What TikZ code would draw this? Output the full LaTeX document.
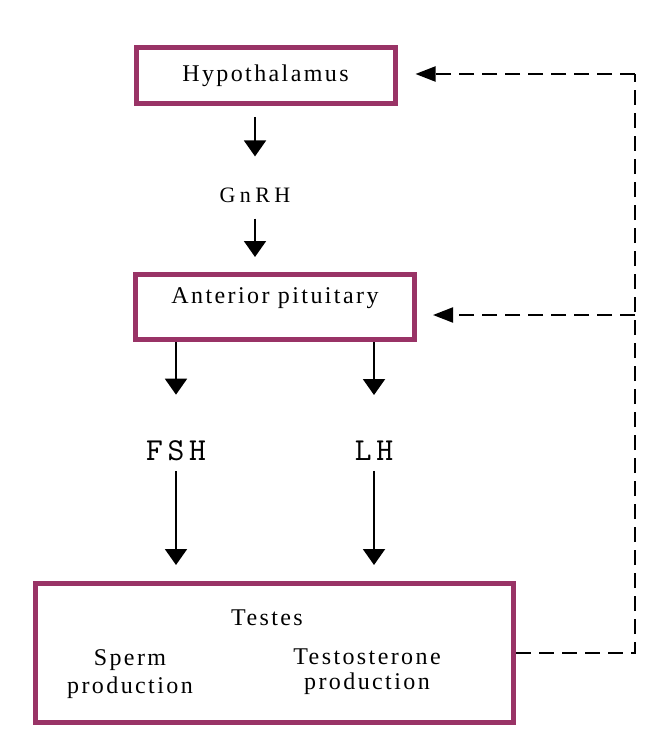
\documentclass[tikz,border=0pt]{standalone}
\usepackage{fontspec}
\setmainfont{Liberation Serif}[LetterSpace=10]
\newfontfamily\hormfont{lmmono10-regular}[Extension=.otf, LetterSpace=15]
\usepackage{tikz}
\usetikzlibrary{arrows.meta, positioning, calc}
\definecolor{boxred}{RGB}{153,51,102}

\begin{document}
\begin{tikzpicture}[
    x=1pt, y=-1pt,
    box/.style={rectangle, draw=boxred, line width=5pt, inner sep=0pt, align=center, font=\fontsize{24}{28}\selectfont},
    txt/.style={inner sep=0pt, align=center, font=\fontsize{24}{28}\selectfont},
    hormone/.style={inner sep=0pt, font=\hormfont\fontsize{32}{36}\selectfont},
    arrow/.style={-{Triangle[length=16pt, width=22pt]}, line width=2pt},
    fbline/.style={line width=2pt, dash pattern=on 15pt off 8pt},
    fbarrow/.style={fbline, -{Triangle[length=20pt, width=15pt]}}
]
\useasboundingbox (0,0) rectangle (663,746);

\node[box, minimum width=259pt, minimum height=56pt] (hypo) at (265.5,75.5) {Hypothalamus};
\node[box, minimum width=279pt, minimum height=65pt] (pit) at (275,307) {Anterior pituitary\\[-5pt]\mbox{}};
\node[box, minimum width=478pt, minimum height=139pt] (testes) at (274.5,653) {};

\node[txt, font=\fontsize{22}{24}\selectfont\addfontfeature{LetterSpace=20}] (gnrh) at (255,195) {GnRH};
\node[hormone] (fsh) at (176,451) {FSH};
\node[hormone] (lh) at (374,451) {LH};

\node[txt] (testlbl) at (267,618) {Testes};
\node[txt, font=\fontsize{24}{28}\selectfont] (sperm) at (130,674) {Sperm\\production};
\node[txt, font=\fontsize{24}{25}\selectfont] (testo) at (367,672) {Testosterone\\production};

\draw[arrow, shorten <=11pt, shorten >=31pt] (gnrh.north |- hypo.south) -- (gnrh.north);
\draw[arrow, shorten <=16pt, shorten >=15pt] (gnrh.south) -- (gnrh.south |- pit.north);

\draw[arrow, shorten >=46pt] (fsh.north |- pit.south) -- (fsh.north);
\draw[arrow, shorten <=10pt, shorten >=16pt] (fsh.south) -- (fsh.south |- testes.north);
\draw[arrow, shorten >=46pt] (lh.north |- pit.south) -- (lh.north);
\draw[arrow, shorten <=10pt, shorten >=16pt] (lh.south) -- (lh.south |- testes.north);

\coordinate (fbtop) at (635,74);
\coordinate (fbmid) at (635,315);
\draw[fbline] (testes.east) -| (fbtop);
\draw[fbarrow, shorten >=18pt] (fbtop) -- (fbtop -| hypo.east);
\draw[fbarrow, shorten >=16pt] (fbmid) -- (fbmid -| pit.east);

\end{tikzpicture}
\end{document}
